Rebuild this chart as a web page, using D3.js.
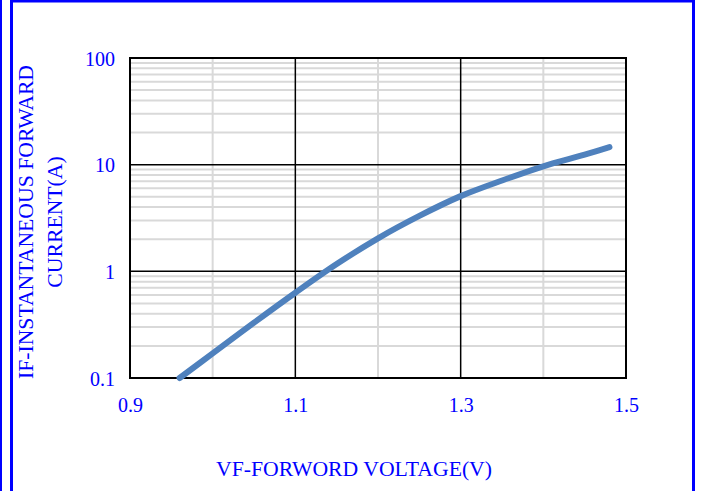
<!DOCTYPE html>
<html>
<head>
<meta charset="utf-8">
<script src="https://cdn.jsdelivr.net/npm/d3@7"></script>
<style>
  body { margin: 0; background: #fff; }
  svg text { font-family: "Liberation Serif", "Times New Roman", serif; fill: #0000ff; }
</style>
</head>
<body>
<div id="chart"></div>
<script>
// forward voltage (V) vs instantaneous forward current (A)
var voltage = [0.96, 1.00, 1.05, 1.10, 1.15, 1.20, 1.25, 1.30, 1.35, 1.40, 1.45, 1.48];
var current = [0.10, 0.17, 0.33, 0.63, 1.17, 2.04, 3.31, 5.07, 7.10, 9.66, 12.4, 14.6];

var xTicks = [0.9, 1.1, 1.3, 1.5];
var xMinor = [1.0, 1.2, 1.4];
var yTicks = [0.1, 1, 10, 100];
var xTitle = "VF-FORWORD VOLTAGE(V)";
var yTitle = ["IF-INSTANTANEOUS FORWARD", "CURRENT(A)"];

var width = 703, height = 491;
var margin = {top: 58, right: 77, bottom: 113, left: 130 };
var plotW = width - margin.left - margin.right,
    plotH = height - margin.top - margin.bottom;

var svg = d3.select("#chart").append("svg")
    .attr("width", width)
    .attr("height", height);

// blue frame round the figure
svg.append("line").attr("x1", 1).attr("x2", 1).attr("y1", 0).attr("y2", height)
    .attr("stroke", "#0000ff").attr("stroke-width", 2);
svg.append("path")
    .attr("d", "M11.5," + height + "V1H693.5V" + height)
    .attr("fill", "none").attr("stroke", "#0000ff").attr("stroke-width", 3);

var g = svg.append("g")
    .attr("transform", "translate(" + margin.left + "," + margin.top + ")");

var x = d3.scaleLinear().domain([0.9, 1.5]).range([0, plotW]);
var y = d3.scaleLog().domain([0.1, 100]).range([plotH, 0]);

// minor grid
var yMinor = y.ticks().filter(function(d) {
  return yTicks.indexOf(+d.toPrecision(3)) < 0;
});
g.append("g").selectAll("line")
  .data(yMinor)
  .enter().append("line")
    .attr("x1", 0).attr("x2", plotW)
    .attr("y1", function(d) { return y(d); })
    .attr("y2", function(d) { return y(d); })
    .attr("stroke", "#d9d9d9").attr("stroke-width", 2);

g.append("g").selectAll("line")
  .data(xMinor)
  .enter().append("line")
    .attr("y1", 0).attr("y2", plotH)
    .attr("x1", function(d) { return x(d); })
    .attr("x2", function(d) { return x(d); })
    .attr("stroke", "#d9d9d9").attr("stroke-width", 2);

// major grid
g.append("g").selectAll("line")
  .data(yTicks)
  .enter().append("line")
    .attr("x1", 0).attr("x2", plotW)
    .attr("y1", function(d) { return y(d); })
    .attr("y2", function(d) { return y(d); })
    .attr("stroke", "#000").attr("stroke-width", 1.5);

g.append("g").selectAll("line")
  .data(xTicks)
  .enter().append("line")
    .attr("y1", 0).attr("y2", plotH)
    .attr("x1", function(d) { return x(d); })
    .attr("x2", function(d) { return x(d); })
    .attr("stroke", "#000").attr("stroke-width", 1.5);

g.append("rect")
    .attr("width", plotW).attr("height", plotH)
    .attr("fill", "none").attr("stroke", "#000").attr("stroke-width", 2);

// axes
var xAxis = g.append("g")
    .attr("transform", "translate(0," + plotH + ")")
    .call(d3.axisBottom(x).tickValues(xTicks).tickSize(0).tickFormat(d3.format(".1f")));
xAxis.select(".domain").remove();
xAxis.selectAll("text")
    .attr("y", 34).attr("dy", null)
    .style("font-size", "20px")
    .style("font-family", "Liberation Serif, serif")
    .attr("fill", "#0000ff");

var yAxis = g.append("g")
    .call(d3.axisLeft(y).tickValues(yTicks).tickSize(0).tickFormat(function(d) { return String(d); }));
yAxis.select(".domain").remove();
yAxis.selectAll("text")
    .attr("x", -15).attr("dy", 7)
    .style("font-size", "20px")
    .style("font-family", "Liberation Serif, serif")
    .attr("fill", "#0000ff");

// curve
var line = d3.line()
    .x(function(d, i) { return x(voltage[i]); })
    .y(function(d) { return y(d); })
    .curve(d3.curveCatmullRom);

g.append("path")
    .datum(current)
    .attr("d", line)
    .attr("fill", "none")
    .attr("stroke", "#4f81bd")
    .attr("stroke-width", 6)
    .attr("stroke-linecap", "round");

// titles
svg.append("text")
    .attr("x", 354).attr("y", 476)
    .attr("text-anchor", "middle")
    .style("font-size", "21.7px")
    .text(xTitle);

svg.append("g")
    .attr("transform", "translate(0,222) rotate(-90)")
  .selectAll("text")
  .data(yTitle)
  .enter().append("text")
    .attr("x", 0)
    .attr("y", function(d, i) { return 33 + i * 29; })
    .attr("text-anchor", "middle")
    .style("font-size", "21.7px")
    .text(function(d) { return d; });
</script>
</body>
</html>
